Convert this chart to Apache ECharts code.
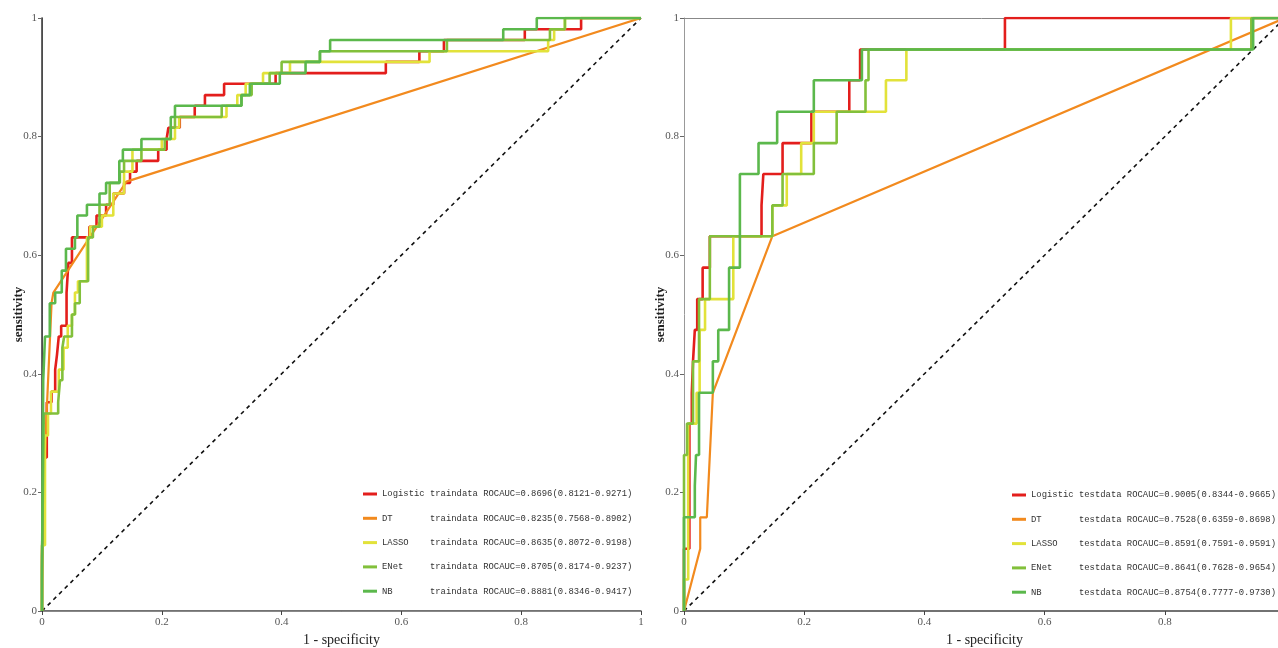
<!DOCTYPE html>
<html>
<head>
<meta charset="utf-8">
<script src="https://cdn.jsdelivr.net/npm/echarts@6/dist/echarts.min.js"></script>
<style>
html,body{margin:0;padding:0;background:#fff;}
#chart{width:1278px;height:648px;}
</style>
</head>
<body>
<div id="chart"></div>
<script>
// ---------- DATA ----------
const models = ['Logistic', 'DT', 'LASSO', 'ENet', 'NB'];
const trainAUC = ['0.8696', '0.8235', '0.8635', '0.8705', '0.8881'];
const trainLow = ['0.8121', '0.7568', '0.8072', '0.8174', '0.8346'];
const trainHigh = ['0.9271', '0.8902', '0.9198', '0.9237', '0.9417'];
const testAUC = ['0.9005', '0.7528', '0.8591', '0.8641', '0.8754'];
const testLow = ['0.8344', '0.6359', '0.7591', '0.7628', '0.7777'];
const testHigh = ['0.9665', '0.8698', '0.9591', '0.9654', '0.9730'];
const axisTicks = [0, 0.2, 0.4, 0.6, 0.8, 1];
const diagonal = [[0, 0], [1, 1]];

// ROC points [1 - specificity, sensitivity]
const trainLogistic = [[0,0],[0,0.093],[0.003,0.093],[0.003,0.259],[0.008,0.259],[0.008,0.352],[0.016,0.352],[0.016,0.37],[0.022,0.37],[0.022,0.407],[0.025,0.407],[0.025,0.432],[0.028,0.432],[0.028,0.463],[0.032,0.463],[0.032,0.481],[0.041,0.481],[0.041,0.537],[0.044,0.537],[0.044,0.587],[0.05,0.587],[0.05,0.63],[0.079,0.63],[0.079,0.648],[0.091,0.648],[0.091,0.667],[0.107,0.667],[0.107,0.685],[0.119,0.685],[0.119,0.704],[0.137,0.704],[0.137,0.722],[0.147,0.722],[0.147,0.741],[0.158,0.741],[0.158,0.759],[0.194,0.759],[0.194,0.778],[0.208,0.778],[0.208,0.796],[0.211,0.796],[0.211,0.815],[0.23,0.815],[0.23,0.833],[0.255,0.833],[0.255,0.852],[0.272,0.852],[0.272,0.87],[0.304,0.87],[0.304,0.889],[0.39,0.889],[0.39,0.907],[0.574,0.907],[0.574,0.926],[0.63,0.926],[0.63,0.944],[0.671,0.944],[0.671,0.963],[0.806,0.963],[0.806,0.981],[0.9,0.981],[0.9,1],[1,1]];
const trainDT = [[0,0],[0.002,0.2],[0.008,0.34],[0.016,0.52],[0.019,0.537],[0.141,0.724],[1,1]];
const trainLASSO = [[0,0],[0,0.111],[0.005,0.111],[0.005,0.296],[0.01,0.296],[0.01,0.333],[0.015,0.333],[0.015,0.37],[0.028,0.37],[0.028,0.407],[0.036,0.407],[0.036,0.444],[0.043,0.444],[0.043,0.481],[0.05,0.481],[0.05,0.5],[0.055,0.5],[0.055,0.537],[0.06,0.537],[0.06,0.556],[0.075,0.556],[0.075,0.63],[0.08,0.63],[0.08,0.648],[0.1,0.648],[0.1,0.667],[0.119,0.667],[0.119,0.704],[0.137,0.704],[0.137,0.741],[0.151,0.741],[0.151,0.778],[0.2,0.778],[0.2,0.796],[0.222,0.796],[0.222,0.815],[0.229,0.815],[0.229,0.833],[0.308,0.833],[0.308,0.852],[0.326,0.852],[0.326,0.87],[0.34,0.87],[0.34,0.889],[0.369,0.889],[0.369,0.907],[0.414,0.907],[0.414,0.926],[0.647,0.926],[0.647,0.944],[0.845,0.944],[0.845,0.963],[0.855,0.963],[0.855,0.981],[0.873,0.981],[0.873,1],[1,1]];
const trainENet = [[0,0],[0,0.074],[0.003,0.074],[0.003,0.333],[0.027,0.333],[0.027,0.352],[0.03,0.352],[0.03,0.389],[0.034,0.389],[0.034,0.444],[0.037,0.444],[0.037,0.463],[0.05,0.463],[0.05,0.5],[0.055,0.5],[0.055,0.519],[0.063,0.519],[0.063,0.556],[0.077,0.556],[0.077,0.63],[0.085,0.63],[0.085,0.648],[0.096,0.648],[0.096,0.685],[0.113,0.685],[0.113,0.722],[0.13,0.722],[0.13,0.741],[0.137,0.741],[0.137,0.759],[0.166,0.759],[0.166,0.778],[0.205,0.778],[0.205,0.796],[0.215,0.796],[0.215,0.815],[0.222,0.815],[0.222,0.833],[0.3,0.833],[0.3,0.852],[0.333,0.852],[0.333,0.87],[0.35,0.87],[0.35,0.889],[0.38,0.889],[0.38,0.907],[0.4,0.907],[0.4,0.926],[0.464,0.926],[0.464,0.944],[0.676,0.944],[0.676,0.963],[0.848,0.963],[0.848,0.981],[0.873,0.981],[0.873,1],[1,1]];
const trainNB = [[0,0],[0,0.056],[0.002,0.056],[0.002,0.389],[0.005,0.389],[0.005,0.463],[0.013,0.463],[0.013,0.519],[0.022,0.519],[0.022,0.537],[0.033,0.537],[0.033,0.574],[0.04,0.574],[0.04,0.611],[0.055,0.611],[0.055,0.63],[0.059,0.63],[0.059,0.667],[0.075,0.667],[0.075,0.685],[0.096,0.685],[0.096,0.704],[0.107,0.704],[0.107,0.722],[0.129,0.722],[0.129,0.759],[0.135,0.759],[0.135,0.778],[0.166,0.778],[0.166,0.796],[0.215,0.796],[0.215,0.833],[0.222,0.833],[0.222,0.852],[0.333,0.852],[0.333,0.87],[0.347,0.87],[0.347,0.889],[0.397,0.889],[0.397,0.907],[0.44,0.907],[0.44,0.926],[0.464,0.926],[0.464,0.944],[0.481,0.944],[0.481,0.963],[0.77,0.963],[0.77,0.981],[0.826,0.981],[0.826,1],[1,1]];

const testLogistic = [[0,0],[0,0.105],[0.009,0.105],[0.009,0.316],[0.013,0.316],[0.013,0.368],[0.015,0.368],[0.015,0.421],[0.018,0.421],[0.018,0.474],[0.022,0.474],[0.022,0.526],[0.031,0.526],[0.031,0.579],[0.043,0.579],[0.043,0.632],[0.129,0.632],[0.129,0.684],[0.132,0.684],[0.132,0.737],[0.164,0.737],[0.164,0.789],[0.212,0.789],[0.212,0.842],[0.275,0.842],[0.275,0.895],[0.293,0.895],[0.293,0.947],[0.534,0.947],[0.534,1],[1,1]];
const testDT = [[0,0],[0.027,0.105],[0.027,0.158],[0.038,0.158],[0.048,0.368],[0.147,0.632],[1,1]];
const testLASSO = [[0,0],[0,0.053],[0.007,0.053],[0.007,0.316],[0.021,0.316],[0.021,0.368],[0.026,0.368],[0.026,0.474],[0.035,0.474],[0.035,0.526],[0.082,0.526],[0.082,0.632],[0.147,0.632],[0.147,0.684],[0.171,0.684],[0.171,0.737],[0.195,0.737],[0.195,0.789],[0.216,0.789],[0.216,0.842],[0.336,0.842],[0.336,0.895],[0.37,0.895],[0.37,0.947],[0.91,0.947],[0.91,1],[1,1]];
const testENet = [[0,0],[0,0.263],[0.005,0.263],[0.005,0.316],[0.015,0.316],[0.015,0.421],[0.025,0.421],[0.025,0.526],[0.043,0.526],[0.043,0.632],[0.147,0.632],[0.147,0.684],[0.164,0.684],[0.164,0.737],[0.216,0.737],[0.216,0.789],[0.254,0.789],[0.254,0.842],[0.302,0.842],[0.302,0.895],[0.307,0.895],[0.307,0.947],[0.944,0.947],[0.944,1],[1,1]];
const testNB = [[0,0],[0,0.158],[0.018,0.158],[0.018,0.211],[0.02,0.211],[0.02,0.263],[0.025,0.263],[0.025,0.368],[0.048,0.368],[0.048,0.421],[0.057,0.421],[0.057,0.474],[0.075,0.474],[0.075,0.579],[0.093,0.579],[0.093,0.737],[0.124,0.737],[0.124,0.789],[0.155,0.789],[0.155,0.842],[0.216,0.842],[0.216,0.895],[0.296,0.895],[0.296,0.947],[0.947,0.947],[0.947,1],[1,1]];

const trainCurves = [trainLogistic, trainDT, trainLASSO, trainENet, trainNB];
const testCurves = [testLogistic, testDT, testLASSO, testENet, testNB];

// ---------- STYLE ----------
const COLORS = ['#e31e1c', '#f28a1e', '#e2e23a', '#82c03b', '#5bb84c'];
const SERIF = '"Liberation Serif", "Times New Roman", serif';
const MONO = '"Liberation Mono", "Courier New", monospace';

function label(i, set, auc, lo, hi) {
  return models[i].padEnd(9, ' ') + set + ' ROCAUC=' + auc[i] + '(' + lo[i] + '-' + hi[i] + ')';
}
const trainNames = models.map((m, i) => label(i, 'traindata', trainAUC, trainLow, trainHigh));
const testNames = models.map((m, i) => label(i, 'testdata', testAUC, testLow, testHigh));

function bottomX(gi) {
  return {
    gridIndex: gi, type: 'value', min: 0, max: 1, interval: 0.2,
    axisLine: { show: true, lineStyle: { color: '#444', width: 1.5 } },
    axisTick: { show: true, length: 4, lineStyle: { color: '#444' } },
    axisLabel: { color: '#555', fontFamily: SERIF, fontSize: 11, margin: 6,
      formatter: v => String(+v.toFixed(1)) },
    splitLine: { show: false },
    name: '1 - specificity', nameLocation: 'middle', nameGap: 22, nameMoveOverlap: false,
    nameTextStyle: { color: '#222', fontFamily: SERIF, fontSize: 14 }
  };
}
function topX(gi) {
  return {
    gridIndex: gi, type: 'value', position: 'top', min: 0, max: 1,
    axisLine: { show: true, lineStyle: { color: '#888', width: 1 } },
    axisTick: { show: false }, axisLabel: { show: false }, splitLine: { show: false }
  };
}
function leftY(gi) {
  return {
    gridIndex: gi, type: 'value', min: 0, max: 1, interval: 0.2,
    axisLine: { show: true, lineStyle: { color: '#999', width: 1 } },
    axisTick: { show: true, length: 4, lineStyle: { color: '#666' } },
    axisLabel: { color: '#555', fontFamily: SERIF, fontSize: 11, margin: 5,
      formatter: v => String(+v.toFixed(1)) },
    splitLine: { show: false },
    name: 'sensitivity', nameLocation: 'middle', nameGap: 17, nameRotate: 90, nameMoveOverlap: false,
    nameTextStyle: { color: '#222', fontFamily: SERIF, fontSize: 13, fontWeight: 'bold' }
  };
}

const series = [];
[[0, 0], [2, 2]].forEach(([xi, yi]) => {
  series.push({
    type: 'line', xAxisIndex: xi, yAxisIndex: yi, data: diagonal,
    symbol: 'none', silent: true, z: 1,
    lineStyle: { color: '#111', width: 1.6, type: [4, 4] }
  });
});
trainCurves.forEach((c, i) => series.push({
  name: trainNames[i], type: 'line', xAxisIndex: 0, yAxisIndex: 0, data: c,
  symbol: 'none', color: COLORS[i], z: 2 + i,
  lineStyle: { color: COLORS[i], width: i === 1 ? 2.2 : 2.6 }
}));
testCurves.forEach((c, i) => series.push({
  name: testNames[i], type: 'line', xAxisIndex: 2, yAxisIndex: 2, data: c,
  symbol: 'none', color: COLORS[i], z: 2 + i,
  lineStyle: { color: COLORS[i], width: i === 1 ? 2.2 : 2.6 }
}));

function legend(names, left, top) {
  return {
    data: names, left: left, top: top, orient: 'vertical', selectedMode: false,
    padding: 0, icon: 'rect', itemWidth: 14, itemHeight: 3, itemGap: 12.3,
    textStyle: { fontFamily: MONO, fontSize: 8.9, color: '#333', lineHeight: 12 }
  };
}

const option = {
  animation: false,
  backgroundColor: '#fff',
  grid: [
    { left: 42, top: 18, width: 599, height: 593, containLabel: false, outerBoundsMode: 'none' },
    { left: 684, top: 18, width: 601, height: 593, containLabel: false, outerBoundsMode: 'none' }
  ],
  xAxis: [bottomX(0), topX(0), bottomX(1), topX(1)],
  yAxis: [
    leftY(0),
    { gridIndex: 0, type: 'value', position: 'right', min: 0, max: 1,
      axisLine: { show: true, lineStyle: { color: '#333', width: 1.5 } },
      axisTick: { show: false }, axisLabel: { show: false }, splitLine: { show: false } },
    leftY(1)
  ],
  legend: [legend(trainNames, 363, 488), legend(testNames, 1012, 489)],
  series: series
};

const chart = echarts.init(document.getElementById('chart'), null, { renderer: 'canvas' });
chart.setOption(option);
</script>
</body>
</html>
